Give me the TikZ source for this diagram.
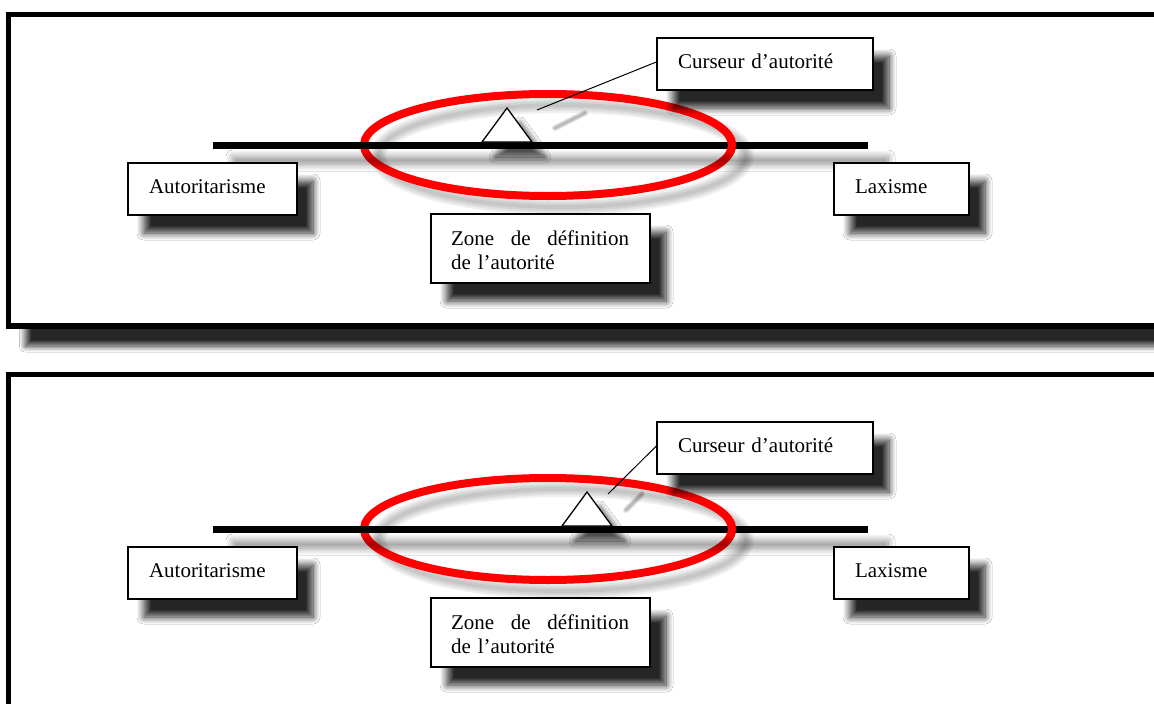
\documentclass[tikz,border=0pt]{standalone}
\usepackage{fontspec}
\setmainfont{Liberation Serif}
\usetikzlibrary{shadows.blur}
\tikzset{
  lbl/.style={rectangle, draw=black, line width=1.3pt, fill=white, align=left,
    font=\fontsize{21}{24}\selectfont, text height=14pt, text depth=5pt,
    inner xsep=21pt, minimum height=52pt,
    blur shadow={shadow xshift=16pt, shadow yshift=-18pt, shadow blur radius=7pt,
      shadow opacity=85, shadow blur steps=12}},
  panelframe/.style={draw=black, line width=5.5pt, fill=white,
    blur shadow={shadow xshift=17pt, shadow yshift=-20pt, shadow blur radius=6pt,
      shadow opacity=85, shadow blur steps=12}},
  barst/.style={fill=black,
    blur shadow={shadow xshift=20pt, shadow yshift=-15pt, shadow blur radius=7pt,
      shadow opacity=45, shadow blur steps=12}},
  ringst/.style={draw=red, line width=8pt},
  ringshadow/.style={draw=black, opacity=0.06},
  cursorst/.style={draw=black, line width=1.3pt, fill=white, line join=miter,
    blur shadow={shadow xshift=13pt, shadow yshift=-15pt, shadow blur radius=6pt,
      shadow opacity=70, shadow blur steps=10}},
  pointerst/.style={draw=black, line width=1pt},
  pointershadow/.style={draw=black, opacity=0.1, line cap=round},
}
\begin{document}
\begin{tikzpicture}[x=1pt,y=-1pt]
\useasboundingbox (0,0) rectangle (1154,704);
\fill[white] (0,0) rectangle (1154,704);
% frames
\draw[panelframe] (8.5,14.5) rectangle (1200,326);
\draw[panelframe] (8.5,374.5) rectangle (1200,760);
% panel contents
\foreach \dy/\ax/\tx/\sfx/\sax/\say/\sbx/\sby in
  {0/507/537/1/555/128/585/113, 384/587/608/2/626/126/642/110} {
  \begin{scope}[shift={(0,\dy)}]
    % ellipse shadow
    \foreach \w in {4,8,12,16}
      \draw[ringshadow, line width=\w pt] (562,156) ellipse [x radius=184pt, y radius=51pt];
    % ellipse
    \draw[ringst] (548,145) ellipse [x radius=184pt, y radius=51pt];
    % bar
    \fill[barst] (213,142) rectangle (868,149);
    % ellipse passing in front of the bar on the right
    \draw[ringst] (548,145) ++(-9:184pt and 51pt)
      arc[start angle=-9, end angle=9, x radius=184pt, y radius=51pt];
    % cursor triangle
    \draw[cursorst] (\ax-25,142) -- (\ax,108) -- (\ax+25,142) -- cycle;
    \coordinate (tip\sfx) at (\tx,110);
    % boxes
    \node[lbl, text width=127pt, minimum width=169pt] (aut\sfx) at (212.5,189) {Autoritarisme};
    \node[lbl, text width=93pt, minimum width=135pt] (lax\sfx) at (901.5,189) {Laxisme};
    \node[lbl, text width=174pt, minimum width=216pt] (cur\sfx) at (765,64) {Curseur d’autorité};
    \node[lbl, text width=179pt, inner xsep=20pt, minimum width=219pt, minimum height=69pt,
          text height={}, text depth={}] (zone\sfx) at (540.5,248.5)
      {\rule{0pt}{22pt}\hbox to 178pt{Zone\hfil de\hfil définition}\\de l’autorité\rule[-5pt]{0pt}{5pt}};
    % pointer
    \foreach \w in {2,4,6}
      \draw[pointershadow, line width=\w pt] (\sax,\say) -- (\sbx,\sby);
    \draw[pointerst] ([yshift=2pt]cur\sfx.west) -- (tip\sfx);
  \end{scope}
}
\end{tikzpicture}
\end{document}
